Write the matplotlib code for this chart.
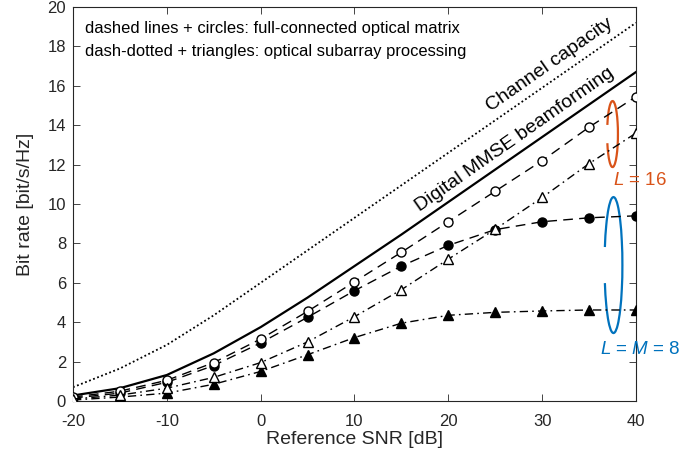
import matplotlib
matplotlib.use("Agg")
import matplotlib.pyplot as plt
from matplotlib.patches import Arc

plt.rcParams['font.family'] = ['Liberation Sans', 'DejaVu Sans']
plt.rcParams['mathtext.fontset'] = 'custom'
plt.rcParams['mathtext.it'] = 'Liberation Sans:italic'
plt.rcParams['mathtext.rm'] = 'Liberation Sans'

# Reference SNR grid [dB]
snr_db = [-20, -15, -10, -5, 0, 5, 10, 15, 20, 25, 30, 35, 40]

# Bit rates [bit/s/Hz]
channel_capacity = [0.7, 1.65, 2.85, 4.35, 6.0, 7.65, 9.3, 10.95, 12.6, 14.25, 15.9, 17.55, 19.2]
digital_mmse = [0.28, 0.65, 1.32, 2.42, 3.75, 5.25, 6.85, 8.45, 10.1, 11.75, 13.4, 15.05, 16.7]
full_L16 = [0.2, 0.5, 1.05, 1.95, 3.15, 4.55, 6.05, 7.55, 9.1, 10.65, 12.2, 13.9, 15.45]
full_L8 = [0.15, 0.4, 0.95, 1.8, 2.95, 4.25, 5.6, 6.85, 7.9, 8.7, 9.1, 9.3, 9.4]
sub_L16 = [0.1, 0.3, 0.65, 1.2, 1.95, 3.0, 4.28, 5.65, 7.2, 8.72, 10.33, 12.05, 13.6]
sub_L8 = [0.05, 0.2, 0.4, 0.85, 1.5, 2.35, 3.22, 3.95, 4.35, 4.5, 4.57, 4.62, 4.62]

x_ticks = [-20, -10, 0, 10, 20, 30, 40]
y_ticks = [0, 2, 4, 6, 8, 10, 12, 14, 16, 18, 20]

axis_gray = '#262626'
orange = '#D95319'
blue = '#0072BD'

fig = plt.figure(figsize=(6.83, 4.58), dpi=100)
ax = fig.add_axes([73 / 683, 1 - 401 / 458, 563 / 683, 394 / 458])

dash = (7, 4.5)
dashdot = (6, 3, 1.2, 3)

ax.plot(snr_db, channel_capacity, color='k', lw=1.3, linestyle=(0, (1, 1.4)))
ax.plot(snr_db, digital_mmse, color='k', lw=1.6, linestyle='-')

ax.plot(snr_db, full_L8, color='k', lw=1.0, linestyle=(0, dash),
        marker='o', ms=6.5, mfc='k', mec='k', zorder=3)
ax.plot(snr_db, sub_L8, color='k', lw=1.0, linestyle=(0, dashdot),
        marker='^', ms=7, mfc='k', mec='k', zorder=3)
ax.plot(snr_db, full_L16, color='k', lw=1.0, linestyle=(0, dash),
        marker='o', ms=6.5, mfc='white', mec='k', mew=1.0, zorder=4)
ax.plot(snr_db, sub_L16, color='k', lw=1.0, linestyle=(0, dashdot),
        marker='^', ms=7, mfc='white', mec='k', mew=1.0, zorder=4)

ax.set_xlim(-20, 40)
ax.set_ylim(0, 20)
ax.set_xticks(x_ticks)
ax.set_yticks(y_ticks)
ax.set_xticklabels([str(v) for v in x_ticks])
ax.set_yticklabels([str(v) for v in y_ticks])
ax.tick_params(direction='in', top=True, right=True, length=5, width=0.6,
               colors=axis_gray, labelsize=12)
ax.tick_params(axis='x', pad=9)
ax.tick_params(axis='y', pad=5)
for s in ax.spines.values():
    s.set_color(axis_gray)
    s.set_linewidth(0.8)

ax.set_xlabel('Reference SNR [dB]', fontsize=14, color=axis_gray, labelpad=2)
ax.set_ylabel('Bit rate [bit/s/Hz]', fontsize=14, color=axis_gray, labelpad=10)

ax.text(-18.7, 18.93, 'dashed lines + circles: full-connected optical matrix',
        fontsize=11.9, ha='left', va='center', color='k')
ax.text(-18.7, 17.72, 'dash-dotted + triangles: optical subarray processing',
        fontsize=11.9, ha='left', va='center', color='k')

ax.text(30.84, 17.06, 'Channel capacity', fontsize=14, rotation=35,
        rotation_mode='anchor', ha='center', va='center', color='k')
ax.text(27.05, 13.25, 'Digital MMSE beamforming', fontsize=14, rotation=35,
        rotation_mode='anchor', ha='center', va='center', color='k')

# group markers: open ellipses around the curve ends
ax.add_patch(Arc((37.5, 13.55), 1.15, 3.35, theta1=-140, theta2=140,
                 color=orange, lw=1.6, clip_on=False))
ax.add_patch(Arc((37.6, 6.9), 1.9, 6.9, theta1=-135, theta2=135,
                 color=blue, lw=1.6, clip_on=False))

ax.text(40.43, 11.2, '$L$ = 16', fontsize=13.5, ha='center', va='center',
        color=orange, clip_on=False)
ax.text(40.43, 2.59, '$L$ = $M$ = 8', fontsize=13.5, ha='center', va='center',
        color=blue, clip_on=False)

fig.savefig('out.png', dpi=100)
